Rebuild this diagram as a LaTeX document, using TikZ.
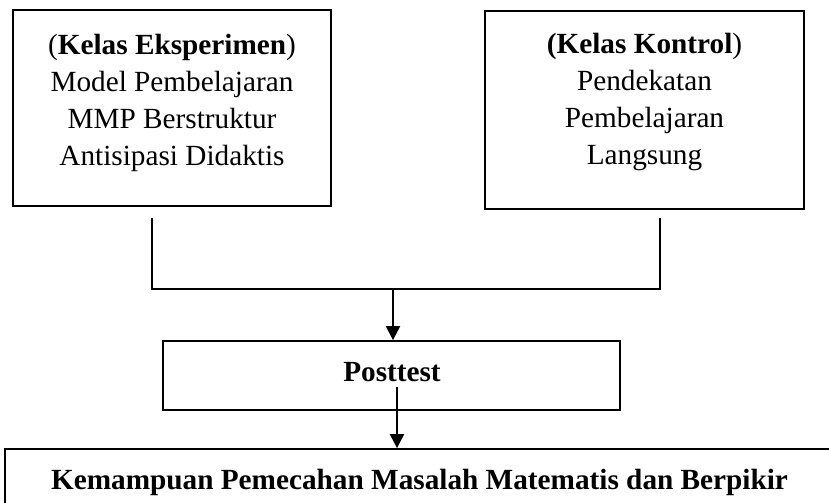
\documentclass[tikz,border=0pt]{standalone}
\usepackage{fontspec}
\setmainfont{Liberation Serif}
\usepackage{tikz}
\usetikzlibrary{arrows.meta, positioning, calc}

\begin{document}
\begin{tikzpicture}[x=0.4pt, y=-0.4pt,
    kotak/.style={draw, line width=0.7pt, inner sep=0pt},
    isi/.style={align=center, inner sep=0pt, font=\fontsize{11.7}{14.8}\selectfont},
    garis/.style={line width=0.7pt},
    panah/.style={line width=0.8pt, -{Triangle[width=5.6pt, length=5.6pt]}}]
    \clip (0,0) rectangle (829,502);
    \useasboundingbox (0,0) rectangle (829,502);
    % kelas eksperimen dan kelas kontrol
    \node[kotak, minimum width=127.2pt, minimum height=78.4pt] (eksp) at (172,108) {};
    \node[isi] (teksp) at (172,103) {(\textbf{Kelas Eksperimen})\\Model Pembelajaran\\MMP Berstruktur\\Antisipasi Didaktis};
    \node[kotak, minimum width=127.6pt, minimum height=79.2pt] (kontrol) at (644.5,110) {};
    \node[isi] (tkontrol) at (644.5,102) {\textbf{(Kelas Kontrol})\\Pendekatan\\Pembelajaran\\Langsung};
    % posttest
    \node[kotak, minimum width=182.8pt, minimum height=27.6pt] (post) at (391.5,375.5) {};
    \node[isi, font=\fontsize{11.7}{14.8}\selectfont\bfseries] (tpost) at (392,372) {Posttest};
    % hasil
    \node[kotak, minimum width=338pt, minimum height=44.4pt] (hasil) at (427.5,504.5) {};
    \node[isi, font=\fontsize{11.7}{14.8}\selectfont\bfseries] (thasil) at (419.5,482) {Kemampuan Pemecahan Masalah Matematis dan Berpikir};
    % garis penghubung
    \coordinate (ka) at (152,218);
    \coordinate (kb) at (152,289);
    \coordinate (na) at (660,218);
    \coordinate (nb) at (660,289);
    \coordinate (tengah) at (393,289);
    \coordinate (mulai) at (397,387);
    \draw[garis] (ka) -- (kb) -- (nb) -- (na);
    \draw[panah] (tengah) -- (tengah |- post.north);
    \draw[panah] (mulai) -- (mulai |- hasil.north);
\end{tikzpicture}
\end{document}
